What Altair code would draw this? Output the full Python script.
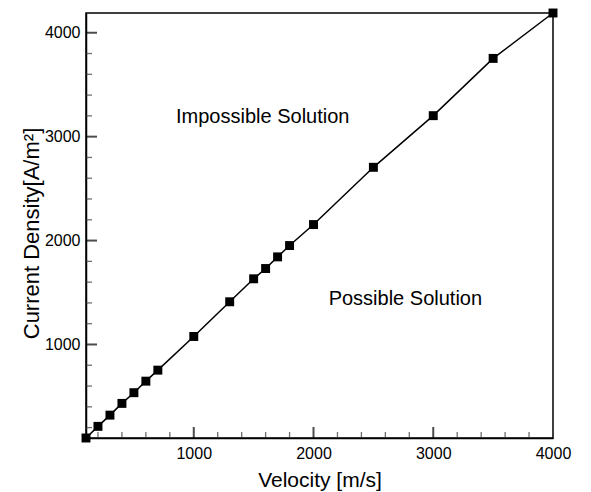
import altair as alt
import pandas as pd

# Data
velocity = [100, 200, 300, 400, 500, 600, 700, 1000, 1300, 1500, 1600, 1700,
            1800, 2000, 2500, 3000, 3500, 4000]
current = [100, 212, 320, 433, 536, 647, 753, 1077, 1411, 1632, 1731, 1843,
           1952, 2154, 2705, 3202, 3753, 4190]

x_major = [1000, 2000, 3000]
x_minor = [200, 400, 600, 800, 1200, 1400, 1600, 1800, 2200, 2400, 2600, 2800,
           3200, 3400, 3600, 3800]
y_major = [1000, 2000, 3000, 4000]
y_minor = [200, 400, 600, 800, 1200, 1400, 1600, 1800, 2200, 2400, 2600, 2800,
           3200, 3400, 3600, 3800]

labels = ["Impossible Solution", "Possible Solution"]
label_x = [1576, 2767]
label_y = [3192, 1442]

X_DOMAIN = [100, 4000]
Y_DOMAIN = [100, 4190]
W, H = 467, 425
FONT = "Liberation Sans"

df = pd.DataFrame({"v": velocity, "j": current})
xs = alt.Scale(domain=X_DOMAIN, nice=False, zero=False)
ys = alt.Scale(domain=Y_DOMAIN, nice=False, zero=False)

x_axis = alt.Axis(values=[1000, 2000, 3000, 4000], format="d", ticks=False,
                  grid=False, labelFontSize=16, labelPadding=7, labelFont=FONT,
                  labelFlush=False, labelOverlap=False,
                  labelColor="black", domainColor="black", domainWidth=1.5,
                  title="Velocity [m/s]", titleFontSize=21, titleFont=FONT,
                  titleFontWeight="normal", titleColor="black",
                  titleBaseline="alphabetic", titleY=48)
y_axis = alt.Axis(values=[1000, 2000, 3000, 4000], format="d", ticks=False,
                  grid=False, labelFontSize=16, labelPadding=6, labelFont=FONT,
                  labelFlush=False, labelOverlap=False,
                  labelColor="black", domainColor="black", domainWidth=1.5,
                  title="Current Density[A/m²]", titleFontSize=22, titleFont=FONT,
                  titleFontWeight="normal", titleColor="black",
                  titleBaseline="alphabetic", titleX=-47.5, titleY=220, titleAngle=270)

line = alt.Chart(df).mark_line(color="black", strokeWidth=1.5, clip=False).encode(
    x=alt.X("v:Q", scale=xs, axis=x_axis),
    y=alt.Y("j:Q", scale=ys, axis=y_axis),
)
pts = alt.Chart(df).mark_point(shape="square", filled=True, color="black",
                               size=80, opacity=1, clip=False).encode(
    x=alt.X("v:Q", scale=xs),
    y=alt.Y("j:Q", scale=ys),
)

xmaj = alt.Chart(pd.DataFrame({"t": x_major})).mark_tick(color="black", thickness=2, size=11).encode(
    x=alt.X("t:Q", scale=xs), y=alt.value(H - 5.5))
xmin = alt.Chart(pd.DataFrame({"t": x_minor})).mark_tick(color="#333", thickness=1.3, size=6).encode(
    x=alt.X("t:Q", scale=xs), y=alt.value(H - 3))
ymaj = alt.Chart(pd.DataFrame({"t": y_major})).mark_tick(color="black", thickness=2, size=11).encode(
    y=alt.Y("t:Q", scale=ys), x=alt.value(5.5))
ymin = alt.Chart(pd.DataFrame({"t": y_minor})).mark_tick(color="#333", thickness=1.3, size=6).encode(
    y=alt.Y("t:Q", scale=ys), x=alt.value(3))

txt = alt.Chart(pd.DataFrame({"l": labels, "x": label_x, "y": label_y})).mark_text(
    fontSize=20, font=FONT, color="black", align="center", baseline="middle").encode(
    x=alt.X("x:Q", scale=xs), y=alt.Y("y:Q", scale=ys), text="l:N")

chart = alt.layer(line, xmaj, xmin, ymaj, ymin, pts, txt).properties(
    width=W, height=H,
    autosize=alt.AutoSizeParams(type="none"),
    padding={"left": 86, "top": 13, "right": 38, "bottom": 54},
).configure(background="white").configure_view(stroke="black", strokeWidth=1.5)

chart.save("out.html", embed_options={"renderer": "svg", "actions": False})
